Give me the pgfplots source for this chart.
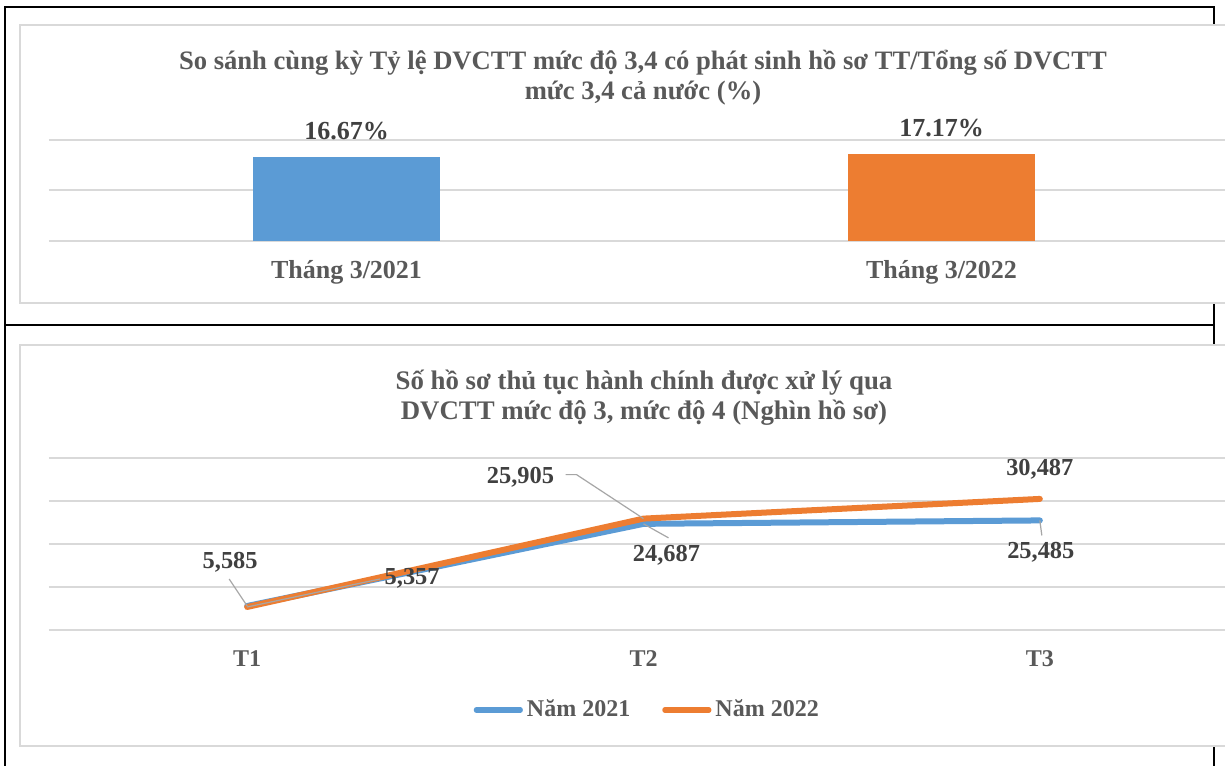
\documentclass[border=0pt]{standalone}
\usepackage{pgfplots}
\pgfplotsset{compat=1.18}
\usepackage{fontspec}
\setmainfont{Liberation Serif}
\definecolor{cblue}{HTML}{5B9BD5}
\definecolor{corange}{HTML}{ED7D31}
\definecolor{cgrid}{HTML}{D9D9D9}
\definecolor{ctitle}{HTML}{595959}
\definecolor{clabel}{HTML}{404040}
\definecolor{clead}{HTML}{A6A6A6}
\tikzset{lbl/.style={font=\bfseries\fontsize{12.2}{14}\selectfont, text=clabel, inner sep=0pt},
  lead/.style={clead, line width=0.6pt}}
\begin{document}
\begin{tikzpicture}
\useasboundingbox (0,0) rectangle (612.5pt,-382.5pt);
\clip (0,0) rectangle (612.5pt,-382.5pt);
% outer frame
\draw[line width=1.1pt] (2.5pt,-390pt) -- (2.5pt,-3.5pt) -- (607pt,-3.5pt) -- (607pt,-390pt);
\draw[line width=1.1pt] (2.5pt,-162.5pt) -- (607pt,-162.5pt);
% chart boxes
\draw[cgrid, line width=0.9pt, fill=white] (10pt,-12.5pt) rectangle (640pt,-151.5pt);
\draw[cgrid, line width=0.9pt, fill=white] (10pt,-172.5pt) rectangle (640pt,-373pt);
% titles
\node[font=\bfseries\fontsize{13.3}{15}\selectfont, text=ctitle, align=center] at (321.5pt,-39pt)
  {So sánh cùng kỳ Tỷ lệ DVCTT mức độ 3,4 có phát sinh hồ sơ TT/Tổng số DVCTT\\mức 3,4 cả nước (\%)};
\node[font=\bfseries\fontsize{13.4}{15}\selectfont, text=ctitle, align=center] at (322pt,-199pt)
  {Số hồ sơ thủ tục hành chính được xử lý qua\\DVCTT mức độ 3, mức độ 4 (Nghìn hồ sơ)};
% bar chart
\begin{axis}[at={(24.5pt,-120.5pt)}, anchor=south west, scale only axis,
  width=595pt, height=50.5pt,
  xmin=-0.5, xmax=1.5, ymin=0, ymax=20,
  ytick={0,10,20}, yticklabels={},
  xtick={0,1}, xticklabels={Tháng 3/2021,Tháng 3/2022},
  axis line style={draw=none}, major tick length=0pt, tick style={draw=none},
  ymajorgrids, grid style={cgrid, line width=1pt},
  xticklabel style={font=\bfseries\fontsize{13}{15}\selectfont, text=ctitle, anchor=center, yshift=-15.5pt, inner sep=0pt},
  clip=false, bar width=93.5pt,
  nodes near coords, point meta=explicit symbolic,
  nodes near coords style={font=\bfseries\fontsize{13}{15}\selectfont, text=clabel, anchor=center, yshift=13pt, inner sep=0pt}]
\addplot[ybar, bar shift=0pt, fill=cblue, draw=none] coordinates {(0,16.67) [16.67\%]};
\addplot[ybar, bar shift=0pt, fill=corange, draw=none] coordinates {(1,17.17) [17.17\%]};
\end{axis}
% line chart
\begin{axis}[at={(24.5pt,-315pt)}, anchor=south west, scale only axis,
  width=594.5pt, height=86pt,
  xmin=0.5, xmax=3.5, ymin=0, ymax=40000,
  ytick={0,10000,20000,30000,40000}, yticklabels={}, scaled y ticks=false,
  xtick={1,2,3}, xticklabels={T1,T2,T3},
  axis line style={draw=none}, major tick length=0pt, tick style={draw=none},
  ymajorgrids, grid style={cgrid, line width=1pt},
  xticklabel style={font=\bfseries\fontsize{12}{14}\selectfont, text=ctitle, anchor=center, yshift=-14.5pt, inner sep=0pt},
  clip=false,
  legend columns=2,
  legend style={at={(0.504,-0.465)}, anchor=center, draw=none, fill=none,
    font=\bfseries\fontsize{12}{14}\selectfont, text=ctitle,
    /tikz/every even column/.append style={column sep=14pt}},
  legend image code/.code={\draw[#1, line width=2.6pt, line cap=round] (0pt,0pt) -- (22pt,0pt);}]
\addplot[cblue, line width=3pt, line cap=round, line join=round] coordinates {(1,5585) (2,24687) (3,25485)};
\addlegendentry{Năm 2021}
\addplot[corange, line width=3pt, line cap=round, line join=round] coordinates {(1,5357) (2,25905) (3,30487)};
\addlegendentry{Năm 2022}
% leaders
\draw[lead] (axis cs:1,5585) -- ([xshift=-9pt,yshift=13.5pt]axis cs:1,5585);
\draw[lead] (axis cs:1,5357) -- ([xshift=66.5pt,yshift=14pt]axis cs:1,5357);
\draw[lead] (axis cs:2,25905) -- ([xshift=-33.5pt,yshift=22pt]axis cs:2,25905) -- ([xshift=-39pt,yshift=22pt]axis cs:2,25905);
\draw[lead] (axis cs:2,24687) -- ([xshift=12.5pt,yshift=-7pt]axis cs:2,24687);
\draw[lead] (axis cs:3,25485) -- ([xshift=1pt,yshift=-7.5pt]axis cs:3,25485);
% labels
\node[lbl, xshift=-8.5pt, yshift=22pt] at (axis cs:1,5585) {5,585};
\node[lbl, xshift=82.5pt, yshift=14.5pt] at (axis cs:1,5357) {5,357};
\node[lbl, xshift=-61.5pt, yshift=20.5pt] at (axis cs:2,25905) {25,905};
\node[lbl, xshift=11.5pt, yshift=-15.5pt] at (axis cs:2,24687) {24,687};
\node[lbl, yshift=15pt] at (axis cs:3,30487) {30,487};
\node[lbl, xshift=0.5pt, yshift=-16pt] at (axis cs:3,25485) {25,485};
\end{axis}
\end{tikzpicture}
\end{document}
